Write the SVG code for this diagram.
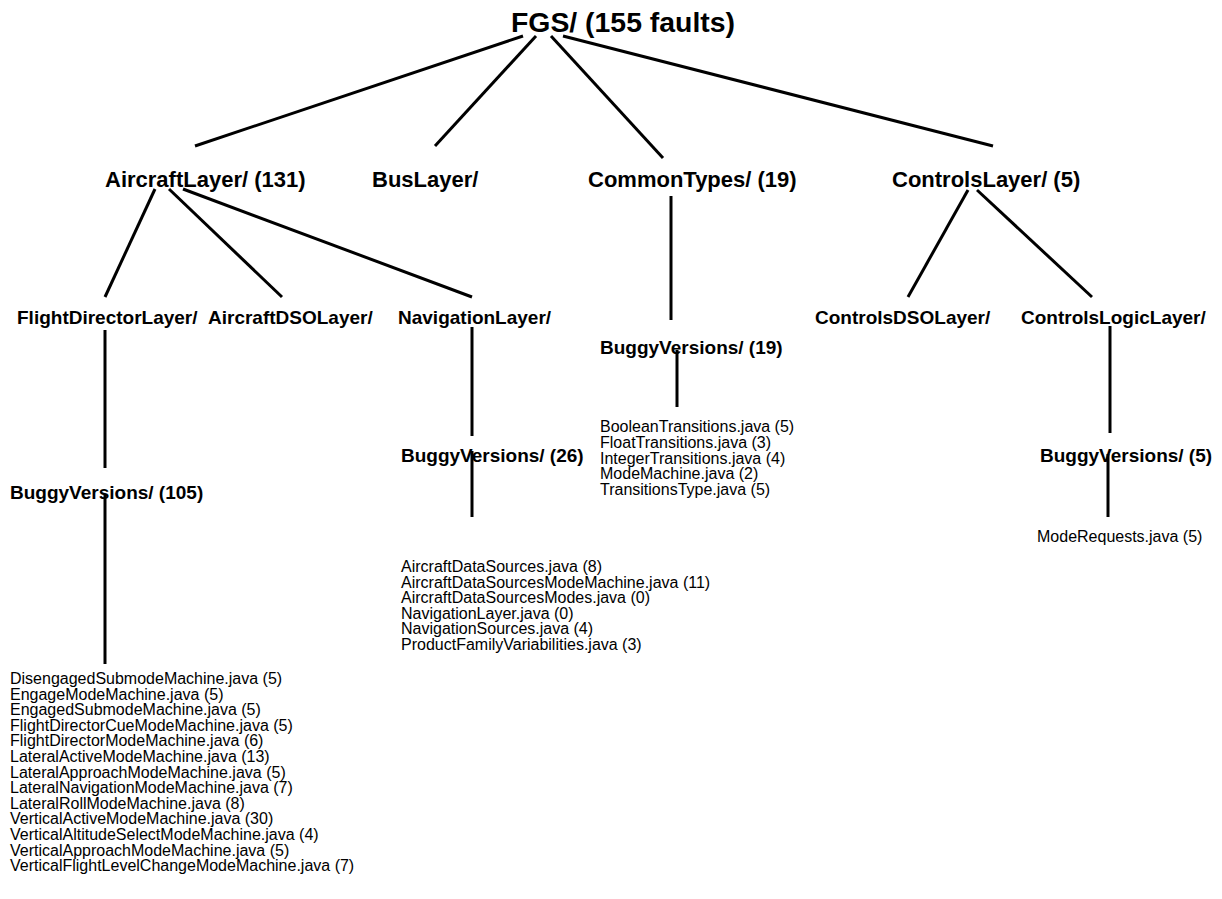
<svg xmlns="http://www.w3.org/2000/svg" width="1222" height="899" viewBox="0 0 1222 899">
<style>
text{font-family:"Liberation Sans",Arial,Helvetica,sans-serif;fill:#000}
.t{font-size:28.4px;font-weight:bold}
.l1{font-size:22px;font-weight:bold}
.l2{font-size:19px;font-weight:bold}
.f{font-size:16px}
#edges line{stroke:#000;stroke-width:3;stroke-linecap:butt}
</style>
<rect width="1222" height="899" fill="#fff"/>
<g id="edges">
<line x1="523" y1="36" x2="195" y2="146"/>
<line x1="536" y1="36" x2="435" y2="146"/>
<line x1="551" y1="36" x2="663" y2="158"/>
<line x1="563" y1="36" x2="993" y2="146"/>
<line x1="155" y1="189" x2="105" y2="297"/>
<line x1="169" y1="189" x2="282" y2="297"/>
<line x1="183" y1="189" x2="472" y2="297"/>
<line x1="968" y1="190" x2="908" y2="297"/>
<line x1="977" y1="190" x2="1092" y2="297"/>
<line x1="105" y1="330" x2="105" y2="468"/>
<line x1="105" y1="494" x2="105" y2="664"/>
<line x1="472" y1="327" x2="472" y2="436"/>
<line x1="472" y1="451" x2="472" y2="517"/>
<line x1="671" y1="196" x2="671" y2="320"/>
<line x1="677" y1="350" x2="677" y2="407"/>
<line x1="1110" y1="326" x2="1110" y2="433"/>
<line x1="1108" y1="454" x2="1108" y2="517"/>
</g>
<g id="fgs"><text class="t" x="623" y="32" text-anchor="middle">FGS/ (155 faults)</text></g>
<g id="aircraftlayer"><text class="l1" x="105" y="187">AircraftLayer/ (131)</text></g>
<g id="buslayer"><text class="l1" x="372" y="187">BusLayer/</text></g>
<g id="commontypes"><text class="l1" x="588" y="187">CommonTypes/ (19)</text></g>
<g id="controlslayer"><text class="l1" x="892" y="187">ControlsLayer/ (5)</text></g>
<g id="flightdirectorlayer"><text class="l2" x="17" y="324">FlightDirectorLayer/</text></g>
<g id="aircraftdsolayer"><text class="l2" x="208" y="324">AircraftDSOLayer/</text></g>
<g id="navigationlayer"><text class="l2" x="398" y="324">NavigationLayer/</text></g>
<g id="controlsdsolayer"><text class="l2" x="815" y="324">ControlsDSOLayer/</text></g>
<g id="controlslogiclayer"><text class="l2" x="1021" y="324">ControlsLogicLayer/</text></g>
<g id="buggy-common"><text class="l2" x="600" y="354">BuggyVersions/ (19)</text></g>
<g id="buggy-nav"><text class="l2" x="401" y="462">BuggyVersions/ (26)</text></g>
<g id="buggy-fd"><text class="l2" x="10" y="499">BuggyVersions/ (105)</text></g>
<g id="buggy-controls"><text class="l2" x="1040" y="462">BuggyVersions/ (5)</text></g>
<g id="files-common"><text class="f" x="600" y="432">
<tspan x="600" dy="0">BooleanTransitions.java (5)</tspan>
<tspan x="600" dy="15.8">FloatTransitions.java (3)</tspan>
<tspan x="600" dy="15.8">IntegerTransitions.java (4)</tspan>
<tspan x="600" dy="15.8">ModeMachine.java (2)</tspan>
<tspan x="600" dy="15.8">TransitionsType.java (5)</tspan>
</text></g>
<g id="files-nav"><text class="f" x="401" y="572">
<tspan x="401" dy="0">AircraftDataSources.java (8)</tspan>
<tspan x="401" dy="15.6">AircraftDataSourcesModeMachine.java (11)</tspan>
<tspan x="401" dy="15.6">AircraftDataSourcesModes.java (0)</tspan>
<tspan x="401" dy="15.6">NavigationLayer.java (0)</tspan>
<tspan x="401" dy="15.6">NavigationSources.java (4)</tspan>
<tspan x="401" dy="15.6">ProductFamilyVariabilities.java (3)</tspan>
</text></g>
<g id="files-controls"><text class="f" x="1037" y="542">ModeRequests.java (5)</text></g>
<g id="files-fd"><text class="f" x="10" y="684">
<tspan x="10" dy="0">DisengagedSubmodeMachine.java (5)</tspan>
<tspan x="10" dy="15.6">EngageModeMachine.java (5)</tspan>
<tspan x="10" dy="15.6">EngagedSubmodeMachine.java (5)</tspan>
<tspan x="10" dy="15.6">FlightDirectorCueModeMachine.java (5)</tspan>
<tspan x="10" dy="15.6">FlightDirectorModeMachine.java (6)</tspan>
<tspan x="10" dy="15.6">LateralActiveModeMachine.java (13)</tspan>
<tspan x="10" dy="15.6">LateralApproachModeMachine.java (5)</tspan>
<tspan x="10" dy="15.6">LateralNavigationModeMachine.java (7)</tspan>
<tspan x="10" dy="15.6">LateralRollModeMachine.java (8)</tspan>
<tspan x="10" dy="15.6">VerticalActiveModeMachine.java (30)</tspan>
<tspan x="10" dy="15.6">VerticalAltitudeSelectModeMachine.java (4)</tspan>
<tspan x="10" dy="15.6">VerticalApproachModeMachine.java (5)</tspan>
<tspan x="10" dy="15.6">VerticalFlightLevelChangeModeMachine.java (7)</tspan>
</text></g>
</svg>
